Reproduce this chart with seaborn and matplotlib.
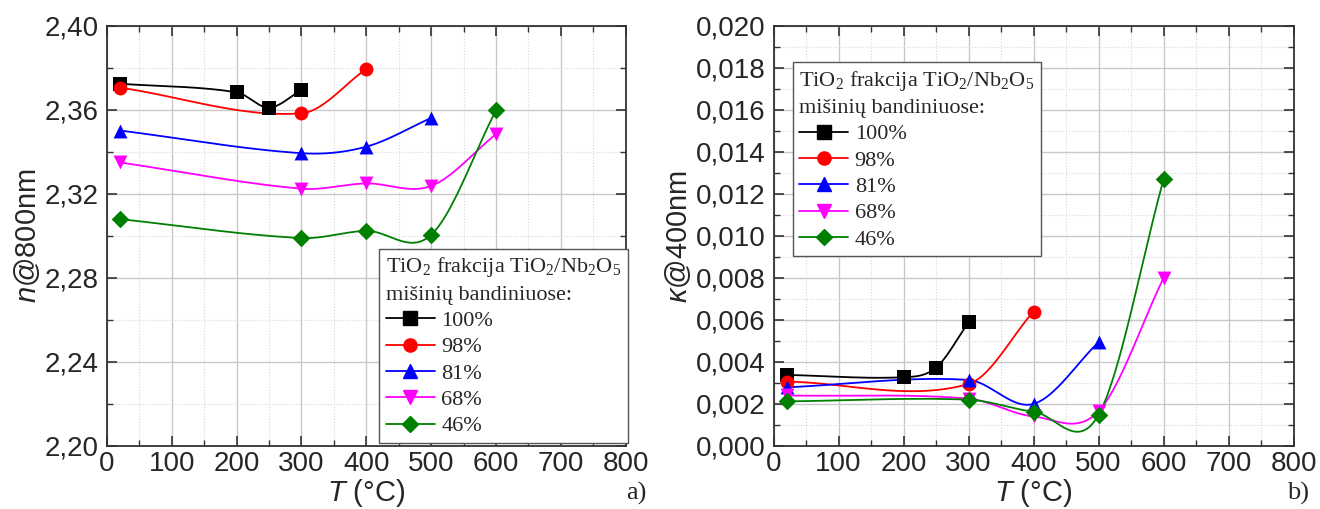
import numpy as np
import matplotlib
matplotlib.use('Agg')
import matplotlib.pyplot as plt
from matplotlib.lines import Line2D
from matplotlib.ticker import MultipleLocator, FuncFormatter
import seaborn as sns

# duomenys (nuskaityti nuo paveikslo)
series_labels = ['100%', '98%', '81%', '68%', '46%']
series_colors = ['black', 'red', 'blue', 'magenta', '#008000']
series_markers = ['s', 'o', '^', 'v', 'D']

t_100 = [20, 200, 250, 300]
t_98 = [20, 300, 400]
t_81 = [20, 300, 400, 500]
t_68 = [20, 300, 400, 500, 600]
t_46 = [20, 300, 400, 500, 600]

# a) lūžio rodiklis n @ 800 nm
n_100 = [2.3725, 2.3684, 2.3611, 2.3695]
n_98 = [2.3706, 2.3584, 2.3795]
n_81 = [2.3502, 2.3394, 2.3425, 2.3562]
n_68 = [2.3350, 2.3225, 2.3250, 2.3238, 2.3485]
n_46 = [2.3080, 2.2990, 2.3024, 2.3005, 2.3598]

# b) ekstinkcijos koeficientas k @ 400 nm
k_100 = [0.00338, 0.00327, 0.00373, 0.00588]
k_98 = [0.00306, 0.00295, 0.00640]
k_81 = [0.00279, 0.00314, 0.00200, 0.00494]
k_68 = [0.00240, 0.00225, 0.00140, 0.00165, 0.00800]
k_46 = [0.00212, 0.00220, 0.00163, 0.00148, 0.01270]

temps = [t_100, t_98, t_81, t_68, t_46]
n_vals = [n_100, n_98, n_81, n_68, n_46]
k_vals = [k_100, k_98, k_81, k_68, k_46]


def smooth(x, y, num=60):
    # kubinė Hermito jungtis (Catmull-Rom tipo) tarp matavimo taškų
    x = np.asarray(x, float)
    y = np.asarray(y, float)
    n = len(x)
    m = np.empty(n)
    m[0] = (y[1] - y[0]) / (x[1] - x[0])
    m[-1] = (y[-1] - y[-2]) / (x[-1] - x[-2])
    m[1:-1] = (y[2:] - y[:-2]) / (x[2:] - x[:-2])
    xs_all, ys_all = [], []
    for i in range(n - 1):
        h = x[i + 1] - x[i]
        t = np.linspace(0, 1, num)
        h00 = 2 * t ** 3 - 3 * t ** 2 + 1
        h10 = t ** 3 - 2 * t ** 2 + t
        h01 = -2 * t ** 3 + 3 * t ** 2
        h11 = t ** 3 - t ** 2
        xs_all.append(x[i] + t * h)
        ys_all.append(h00 * y[i] + h10 * h * m[i] + h01 * y[i + 1] + h11 * h * m[i + 1])
    return np.concatenate(xs_all), np.concatenate(ys_all)


sns.set_style('ticks')
plt.rcParams['font.family'] = ['Liberation Sans', 'DejaVu Sans']
plt.rcParams['mathtext.fontset'] = 'custom'
plt.rcParams['mathtext.rm'] = 'Liberation Serif'
plt.rcParams['mathtext.it'] = 'Liberation Sans:italic'
plt.rcParams['mathtext.default'] = 'it'

fig = plt.figure(figsize=(13.2, 5.09), dpi=100)
ax1 = fig.add_axes([0.081, 0.124, 0.393, 0.825])
ax2 = fig.add_axes([0.586, 0.124, 0.394, 0.825])


def draw(ax, yvals):
    for t, v, col, mk in zip(temps, yvals, series_colors, series_markers):
        xs, ys = smooth(t, v)
        sns.lineplot(x=xs, y=ys, ax=ax, color=col, lw=1.3, sort=False, zorder=3)
        sns.scatterplot(x=t, y=v, ax=ax, color=col, marker=mk,
                        s=100 if mk != 'D' else 80, edgecolor=col, linewidth=0, zorder=4)


def style(ax, ymin, ymax, major, minor, fmt):
    ax.set_xlim(0, 800)
    ax.set_ylim(ymin, ymax)
    ax.xaxis.set_major_locator(MultipleLocator(100))
    ax.xaxis.set_minor_locator(MultipleLocator(50))
    ax.yaxis.set_major_locator(MultipleLocator(major))
    ax.yaxis.set_minor_locator(MultipleLocator(minor))
    ax.yaxis.set_major_formatter(FuncFormatter(lambda v, p: fmt.format(v).replace('.', ',')))
    ax.grid(which='major', color='#c8c8c8', lw=1.0, ls='-', zorder=0)
    ax.grid(which='minor', color='#d6d6d6', lw=0.8, ls=':', zorder=0)
    ax.set_axisbelow(True)
    ax.tick_params(which='both', direction='in', top=True, right=True, color='#333333')
    ax.tick_params(which='major', length=7, width=1.2, labelsize=20, pad=6)
    ax.tick_params(which='minor', length=4, width=1.0)
    ax.tick_params(axis='x', pad=4)
    for sp in ax.spines.values():
        sp.set_color('#333333')
        sp.set_linewidth(1.3)
    ax.set_xlabel('$T$ (°C)', fontsize=21, labelpad=0)


draw(ax1, n_vals)
draw(ax2, k_vals)
style(ax1, 2.20, 2.40, 0.04, 0.02, '{:.2f}')
style(ax2, 0.0, 0.020, 0.002, 0.001, '{:.3f}')
ax1.set_ylabel('$n$@800nm', fontsize=21, labelpad=2)
ax2.set_ylabel('$\\kappa$@400nm', fontsize=21, labelpad=2)

handles = [Line2D([], [], color=c, marker=m, ms=9.5 if m != 'D' else 8.5, lw=1.3)
           for c, m in zip(series_colors, series_markers)]
title = 'TiO$_{\\mathrm{2}}$ frakcija TiO$_{\\mathrm{2}}$/Nb$_{\\mathrm{2}}$O$_{\\mathrm{5}}$\nmišinių bandiniuose:'
leg_kw = dict(prop={'family': 'Liberation Serif', 'size': 16},
              title_fontproperties={'family': 'Liberation Serif', 'size': 16},
              frameon=True, fancybox=False, framealpha=1, edgecolor='#555555',
              handlelength=2.2, handletextpad=0.3, labelspacing=0.26,
              borderpad=0.3, borderaxespad=0, alignment='left')
for ax, loc, anchor in [(ax1, 'lower right', (1.004, 0.007)), (ax2, 'upper left', (0.0365, 0.914))]:
    leg = ax.legend(handles, series_labels, title=title, loc=loc,
                    bbox_to_anchor=anchor, **leg_kw)
    leg.get_title().set_linespacing(1.45)
    leg.get_frame().set_linewidth(1.0)
    leg.set_zorder(5)

fig.text(0.49, 0.018, 'a)', fontsize=19, family='Liberation Serif', ha='right')
fig.text(0.992, 0.018, 'b)', fontsize=19, family='Liberation Serif', ha='right')

plt.savefig('out.png', dpi=100)
